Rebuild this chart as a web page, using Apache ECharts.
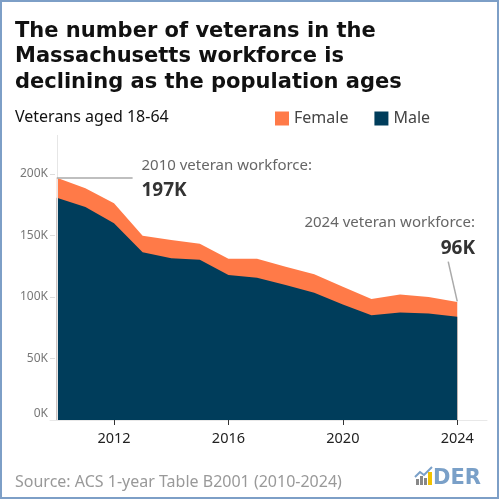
<!DOCTYPE html>
<html>
<head>
<meta charset="utf-8">
<script src="https://cdn.jsdelivr.net/npm/echarts@6/dist/echarts.min.js"></script>
<style>
html,body{margin:0;padding:0;background:#fff;}
#c{width:499px;height:499px;}
</style>
</head>
<body>
<div id="c"></div>
<script>
// Data
const years = [2010,2011,2012,2013,2014,2015,2016,2017,2018,2019,2020,2021,2022,2023,2024];
const male   = [180700,173200,159900,136300,131400,130300,117800,115600,109700,103400,94000,85200,87400,86600,83900];
const female = [16300,15200,16300,13500,14900,13000,13300,15500,14900,15000,14300,13100,14700,13300,12100];
const xTickLabels = [2012,2016,2020,2024];
const yTickLabels = [0,50000,100000,150000,200000];

const FONT = '"Noto Sans", "Open Sans", sans-serif';
const chart = echarts.init(document.getElementById('c'), null, {renderer:'canvas'});

// female area sits on top of the male area: draw the total (male+female) behind the male area
const totals = years.map((y,i)=>male[i]+female[i]);
const maleData = years.map((y,i)=>[y, male[i]]);
const totalData = years.map((y,i)=>[y, totals[i]]);
const total2010 = totals[0];
const total2024 = totals[totals.length-1];

chart.setOption({
  animation:false,
  backgroundColor:'#fff',
  title:[
    {text:'The number of veterans in the\nMassachusetts workforce is\ndeclining as the population ages',
     left:15, top:18.5, padding:0,
     textStyle:{fontFamily:'"DejaVu Sans"', fontWeight:'bold', fontSize:21, lineHeight:25.5, color:'#111'}},
    {text:'Veterans aged 18-64', left:15, top:107.5, padding:0,
     textStyle:{fontFamily:FONT, fontWeight:'normal', fontSize:16, lineHeight:20, color:'#111'}},
    {text:'Source: ACS 1-year Table B2001 (2010-2024)', left:15, top:472, padding:0,
     textStyle:{fontFamily:FONT, fontWeight:'normal', fontSize:16, lineHeight:20, color:'#999'}}
  ],
  legend:{
    data:['Female','Male'], left:275, top:110.5, padding:0, icon:'rect', itemWidth:14, itemHeight:14,
    itemGap:26, textStyle:{fontFamily:FONT, fontSize:16, color:'#444'}
  },
  grid:{left:50, right:12, top:135, bottom:79},
  xAxis:{
    type:'value', min:2009.762, max:2025.04,
    axisLine:{show:true, lineStyle:{color:'#e8e8e8', width:1}},
    axisTick:{show:true, length:5, lineStyle:{color:'#333'}, customValues:xTickLabels},
    axisLabel:{customValues:xTickLabels, fontFamily:FONT, fontSize:14.5, color:'#222', margin:11,
      formatter:v=>String(Math.round(v))},
    splitLine:{show:false}
  },
  yAxis:{
    type:'value', min:0, max:231700,
    axisLine:{show:false},
    axisTick:{show:true, inside:true, length:5, lineStyle:{color:'#ddd'}, customValues:yTickLabels.slice(1)},
    axisLabel:{customValues:yTickLabels, fontFamily:FONT, fontSize:12, color:'#777', margin:2,
      formatter:v=> v===0 ? '{z|0K}' : (v/1000)+'K',
      rich:{z:{fontFamily:FONT, fontSize:12, color:'#777', padding:[0,0,12,0]}}},
    splitLine:{show:false}
  },
  series:[
    {type:'line', name:'Female', data:totalData, symbol:'none',
     lineStyle:{width:0}, itemStyle:{color:'#ff7a48'}, areaStyle:{color:'#ff7a48', opacity:1}, z:2,
     markLine:{silent:true, symbol:'none', label:{show:false},
       lineStyle:{color:'#e6e6e6', width:1, type:'solid'},
       data:[{xAxis:2010}]}},
    {type:'line', name:'Male', data:maleData, symbol:'none',
     lineStyle:{width:0}, itemStyle:{color:'#003d5b'}, areaStyle:{color:'#003d5b', opacity:1}, z:3,
     markLine:{silent:true, symbol:'none', label:{show:false},
       lineStyle:{color:'#aaa', width:1.5, type:'solid'},
       data:[
         [{coord:[2010,total2010]},{coord:[2012.65,total2010]}],
         [{coord:[2024,total2024+500]},{coord:[2023.684,128700]}]
       ]}}
  ],
  graphic:[
    {type:'text', left:141.5, top:158.5, style:{text:'2010 veteran workforce:', fontFamily:FONT, fontSize:15, fill:'#666'}},
    {type:'text', left:141.5, top:181, style:{text:'197K', fontFamily:FONT, fontSize:19, fontWeight:'bold', fill:'#333'}},
    {type:'text', right:24, top:215.5, style:{text:'2024 veteran workforce:', fontFamily:FONT, fontSize:15, fill:'#666'}},
    {type:'text', right:24, top:239.5, style:{text:'96K', fontFamily:FONT, fontSize:19, fontWeight:'bold', fill:'#333'}},
    // logo
    {type:'rect', shape:{x:416,y:479,width:3,height:6}, style:{fill:'#888'}},
    {type:'rect', shape:{x:420,y:476,width:3,height:9}, style:{fill:'#888'}},
    {type:'rect', shape:{x:424,y:478,width:3,height:7}, style:{fill:'#888'}},
    {type:'rect', shape:{x:428,y:472,width:4,height:13}, style:{fill:'#f2c200'}},
    {type:'polyline', shape:{points:[[415,477],[420,472],[424,475],[432,467]]}, style:{stroke:'#7aa0c8', lineWidth:2, fill:null}},
    {type:'text', left:433, top:468, style:{text:'DER', fontFamily:'"DejaVu Sans"', fontWeight:'bold', fontSize:21, fill:'#7aa0c8'}},
    {type:'rect', shape:{x:1,y:1,width:497,height:497}, style:{fill:null, stroke:'#7d9fc7', lineWidth:2}, z:100}
  ]
});
</script>
</body>
</html>
